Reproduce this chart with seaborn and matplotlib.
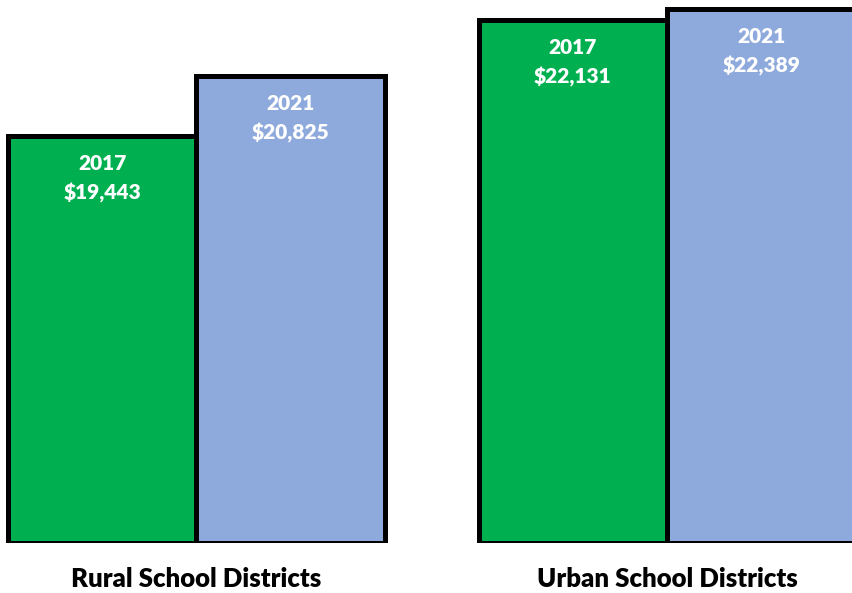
import matplotlib
matplotlib.use("Agg")
import matplotlib.pyplot as plt
import seaborn as sns
import pandas as pd

# Per-pupil spending by district type and year
districts = ["Rural School Districts", "Urban School Districts"]
years = ["2017", "2021"]
spending_2017 = [19443, 22131]
spending_2021 = [20825, 22389]
baseline = 10000

df = pd.DataFrame({
    "district": districts * 2,
    "year": [years[0]] * len(districts) + [years[1]] * len(districts),
    "spending": spending_2017 + spending_2021,
})

sns.set_theme(style="white")
plt.rcParams["font.family"] = ["Lato", "DejaVu Sans"]

W, H = 852, 593
fig = plt.figure(figsize=(W / 100, H / 100), dpi=100)
ax = fig.add_axes([0, 1 - 543 / H, 1, 543 / H])

sns.barplot(
    data=df, x="district", y="spending", hue="year",
    palette=["#00B050", "#8EA9DB"], saturation=1,
    edgecolor="black", linewidth=3.6, width=0.8,
    legend=False, ax=ax,
)

# bars start from the baseline so the bottom border shows
for p in ax.patches:
    top = p.get_y() + p.get_height()
    p.set_y(baseline)
    p.set_height(top - baseline)
    p.set_joinstyle("miter")

ax.set_ylim(baseline, 22600)
ax.set_xlim(-0.417, 1.393)

for container, yr in zip(ax.containers, years):
    for p in container.patches:
        cx = p.get_x() + p.get_width() / 2
        top = p.get_y() + p.get_height()
        ax.annotate(yr, xy=(cx, top), xytext=(0, -19.5), textcoords="offset points",
                    ha="center", va="center", color="white", fontsize=15,
                    fontweight="heavy")
        ax.annotate(f"${top:,.0f}", xy=(cx, top), xytext=(0, -41), textcoords="offset points",
                    ha="center", va="center", color="white", fontsize=15,
                    fontweight="heavy")

for s in ax.spines.values():
    s.set_visible(False)
ax.set_yticks([])
ax.set_xlabel("")
ax.set_ylabel("")
ax.tick_params(axis="x", length=0, pad=17)
for lbl in ax.get_xticklabels():
    lbl.set_fontweight("heavy")
    lbl.set_fontsize(18.5)
    lbl.set_color("black")

fig.savefig("out.png", dpi=100)
